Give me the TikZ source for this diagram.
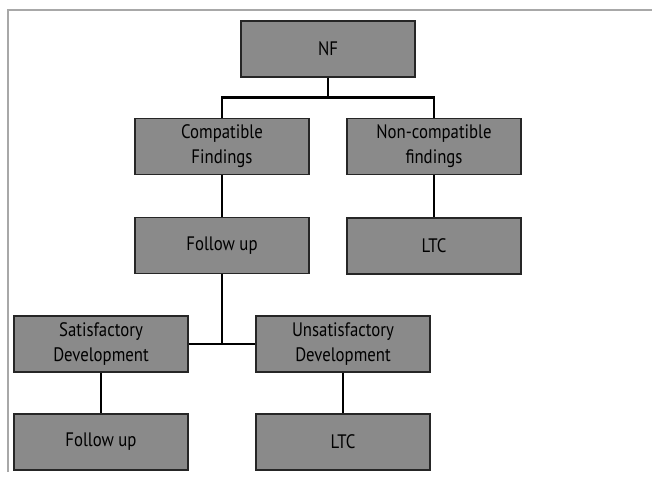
\documentclass[tikz,border=0pt]{standalone}
\usepackage{fontspec}
\setmainfont{PT Sans}
\newfontfamily\boxfont[FakeStretch=0.86]{PT Sans}
\usetikzlibrary{calc}
\definecolor{boxgray}{HTML}{8A8A8A}
\definecolor{framegray}{HTML}{A8A8A8}
\tikzset{
    stepbox/.style={draw=black!85,line width=1.2pt,fill=boxgray,minimum width=174pt,minimum height=56pt,
        inner sep=0pt,align=center,font=\boxfont\fontsize{19.5}{25}\selectfont},
    tree/.style={to path={|- ($(\tikztostart)!0.5!(\tikztotarget)$) -| (\tikztotarget)}}
}

\begin{document}
\begin{tikzpicture}[x=1pt,y=-1pt]
    \useasboundingbox (0,0) rectangle (652,477);
    \draw[framegray,line width=1.5pt] (8,472) -- (8,10) -- (652,10);

    \node[stepbox] (nf) at (328,49) {NF};
    \node[stepbox] (comp) at (222,146.5) {Compatible\\Findings};
    \node[stepbox] (noncomp) at (434,146.5) {Non-compatible\\findings};
    \node[stepbox] (fu) at (222,245.5) {Follow up};
    \node[stepbox] (ltc) at (434,246) {LTC};
    \node[stepbox] (sat) at (101,344) {Satisfactory\\Development};
    \node[stepbox] (unsat) at (343,344) {Unsatisfactory\\Development};
    \node[stepbox] (fu2) at (101,442) {Follow up};
    \node[stepbox] (ltc2) at (343,442) {LTC};

    \path[every edge/.style={draw,black,line width=2.8pt}]
    (nf.south) edge [tree] (comp.north)
    (nf.south) edge [tree] (noncomp.north)
    (comp) edge (fu)
    (noncomp) edge (ltc)
    (fu.south) edge [to path={|- (\tikztotarget)}] (sat.east)
    (fu.south) edge [to path={|- (\tikztotarget)}] (unsat.west)
    (sat) edge (fu2)
    (unsat) edge (ltc2);
\end{tikzpicture}
\end{document}
